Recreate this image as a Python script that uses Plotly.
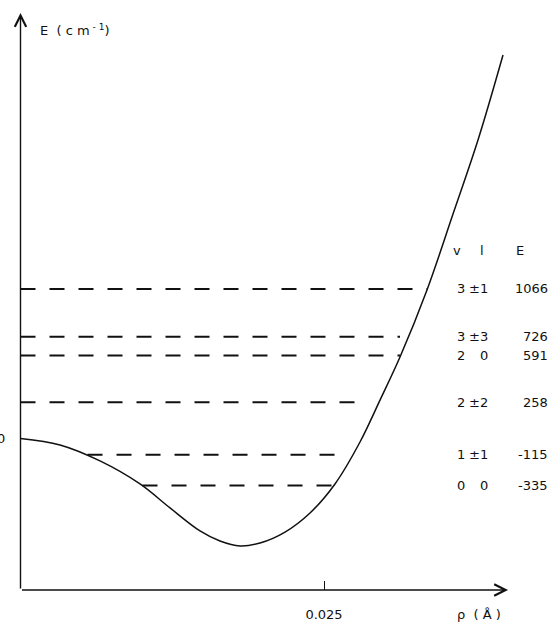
import plotly.graph_objects as go

# ---- data ----
rho_curve = [0.0, 0.003254, 0.006549, 0.009843, 0.012315, 0.014786, 0.016433,
             0.018081, 0.019728, 0.021788, 0.023847, 0.025906, 0.027965,
             0.029613, 0.031260, 0.033484, 0.035626, 0.037685, 0.039745]
E_curve = [0, -46, -160, -324, -495, -659, -731,
           -766, -745, -667, -531, -324, -25,
           274, 581, 1059, 1600, 2128, 2734]

level_E = [1066, 726, 591, 258, -115, -335]
level_rho_start = [0.0, 0.0, 0.0, 0.0, 0.00552, 0.01005]
level_rho_end = [0.03348, 0.03126, 0.03126, 0.02862, 0.02615, 0.02574]
level_v = ["3", "3", "2", "2", "1", "0"]
level_l = ["±1", "±3", "0", "±2", "±1", "0"]
level_E_text = ["1066", "726", "591", "258", "-115", "-335"]

x_tick_vals = [0.025]
x_tick_text = ["0.025"]

# ---- layout helpers ----
X_MIN, X_MAX = -0.001689, 0.043863
Y_MIN, Y_MAX = -1329.7, 3126.3
AXIS_E = -1080          # energy at which the rho axis is drawn
AXIS_TOP_E = 3034
AXIS_RIGHT_RHO = 0.04016
INK = "#111111"
FONT = "DejaVu Sans"

fig = go.Figure()

# potential curve
fig.add_trace(go.Scatter(
    x=rho_curve, y=E_curve, mode="lines",
    line=dict(color=INK, width=1.5, shape="spline", smoothing=1.0),
    hoverinfo="skip", showlegend=False))

# energy levels (dashed)
for xs, xe, e in zip(level_rho_start, level_rho_end, level_E):
    fig.add_trace(go.Scatter(
        x=[xs, xe], y=[e, e], mode="lines",
        line=dict(color=INK, width=2, dash="15px,14px"),
        hoverinfo="skip", showlegend=False))

annotations = []
# axes with arrowheads
annotations.append(dict(x=0, y=AXIS_TOP_E, ax=0, ay=AXIS_E, xref="x", yref="y",
                        axref="x", ayref="y", text="", showarrow=True,
                        arrowhead=5, arrowsize=1.6, arrowwidth=1.4,
                        arrowcolor=INK, standoff=0, startstandoff=0))
annotations.append(dict(x=AXIS_RIGHT_RHO, y=AXIS_E, ax=0, ay=AXIS_E, xref="x", yref="y",
                        axref="x", ayref="y", text="", showarrow=True,
                        arrowhead=5, arrowsize=1.6, arrowwidth=1.4,
                        arrowcolor=INK, standoff=0, startstandoff=0))

tf = dict(family=FONT, size=13, color=INK)

# axis titles / labels
annotations.append(dict(x=38 / 553, y=1 - 30 / 625, xref="paper", yref="paper",
                        text="E  ( c m<sup> - 1</sup>)", showarrow=False,
                        xanchor="left", yanchor="middle", font=tf))
annotations.append(dict(x=479 / 553, y=1 - 614 / 625, xref="paper", yref="paper",
                        text="ρ  ( Å )", showarrow=False,
                        xanchor="center", yanchor="middle", font=tf))
annotations.append(dict(x=1 / 553, y=0, xref="paper", yref="y",
                        text="0", showarrow=False,
                        xanchor="center", yanchor="middle", font=tf))

# table header
header_y = 1 - 250 / 625
for txt, px in [("v", 457), ("l", 482), ("E", 520)]:
    annotations.append(dict(x=px / 553, y=header_y, xref="paper", yref="paper",
                            text=txt, showarrow=False, xanchor="center",
                            yanchor="middle", font=tf))

# table rows
for v, l, et, e in zip(level_v, level_l, level_E_text, level_E):
    annotations.append(dict(x=461 / 553, y=e, xref="paper", yref="y", text=v,
                            showarrow=False, xanchor="center", yanchor="middle", font=tf))
    annotations.append(dict(x=490 / 553, y=e, xref="paper", yref="y", text=l,
                            showarrow=False, xanchor="right", yanchor="middle", font=tf))
    annotations.append(dict(x=550 / 553, y=e, xref="paper", yref="y", text=et,
                            showarrow=False, xanchor="right", yanchor="middle", font=tf))

fig.update_layout(
    width=553, height=625,
    margin=dict(l=0, r=0, t=0, b=0),
    paper_bgcolor="white", plot_bgcolor="white",
    showlegend=False,
    annotations=annotations,
    xaxis=dict(range=[X_MIN, X_MAX], showgrid=False, zeroline=False, showline=False,
               anchor="free", position=1 - 590 / 625,
               ticks="inside", ticklen=9, tickwidth=1, tickcolor=INK,
               tickvals=x_tick_vals, ticktext=x_tick_text,
               tickfont=dict(family=FONT, size=13, color=INK),
               ticklabelstandoff=15, fixedrange=True),
    yaxis=dict(range=[Y_MIN, Y_MAX], visible=False, fixedrange=True),
)

fig.write_html(
    "out.html",
    config={"displayModeBar": False, "staticPlot": True},
    post_script="document.body.style.margin='0px';document.body.style.overflow='hidden';",
)
